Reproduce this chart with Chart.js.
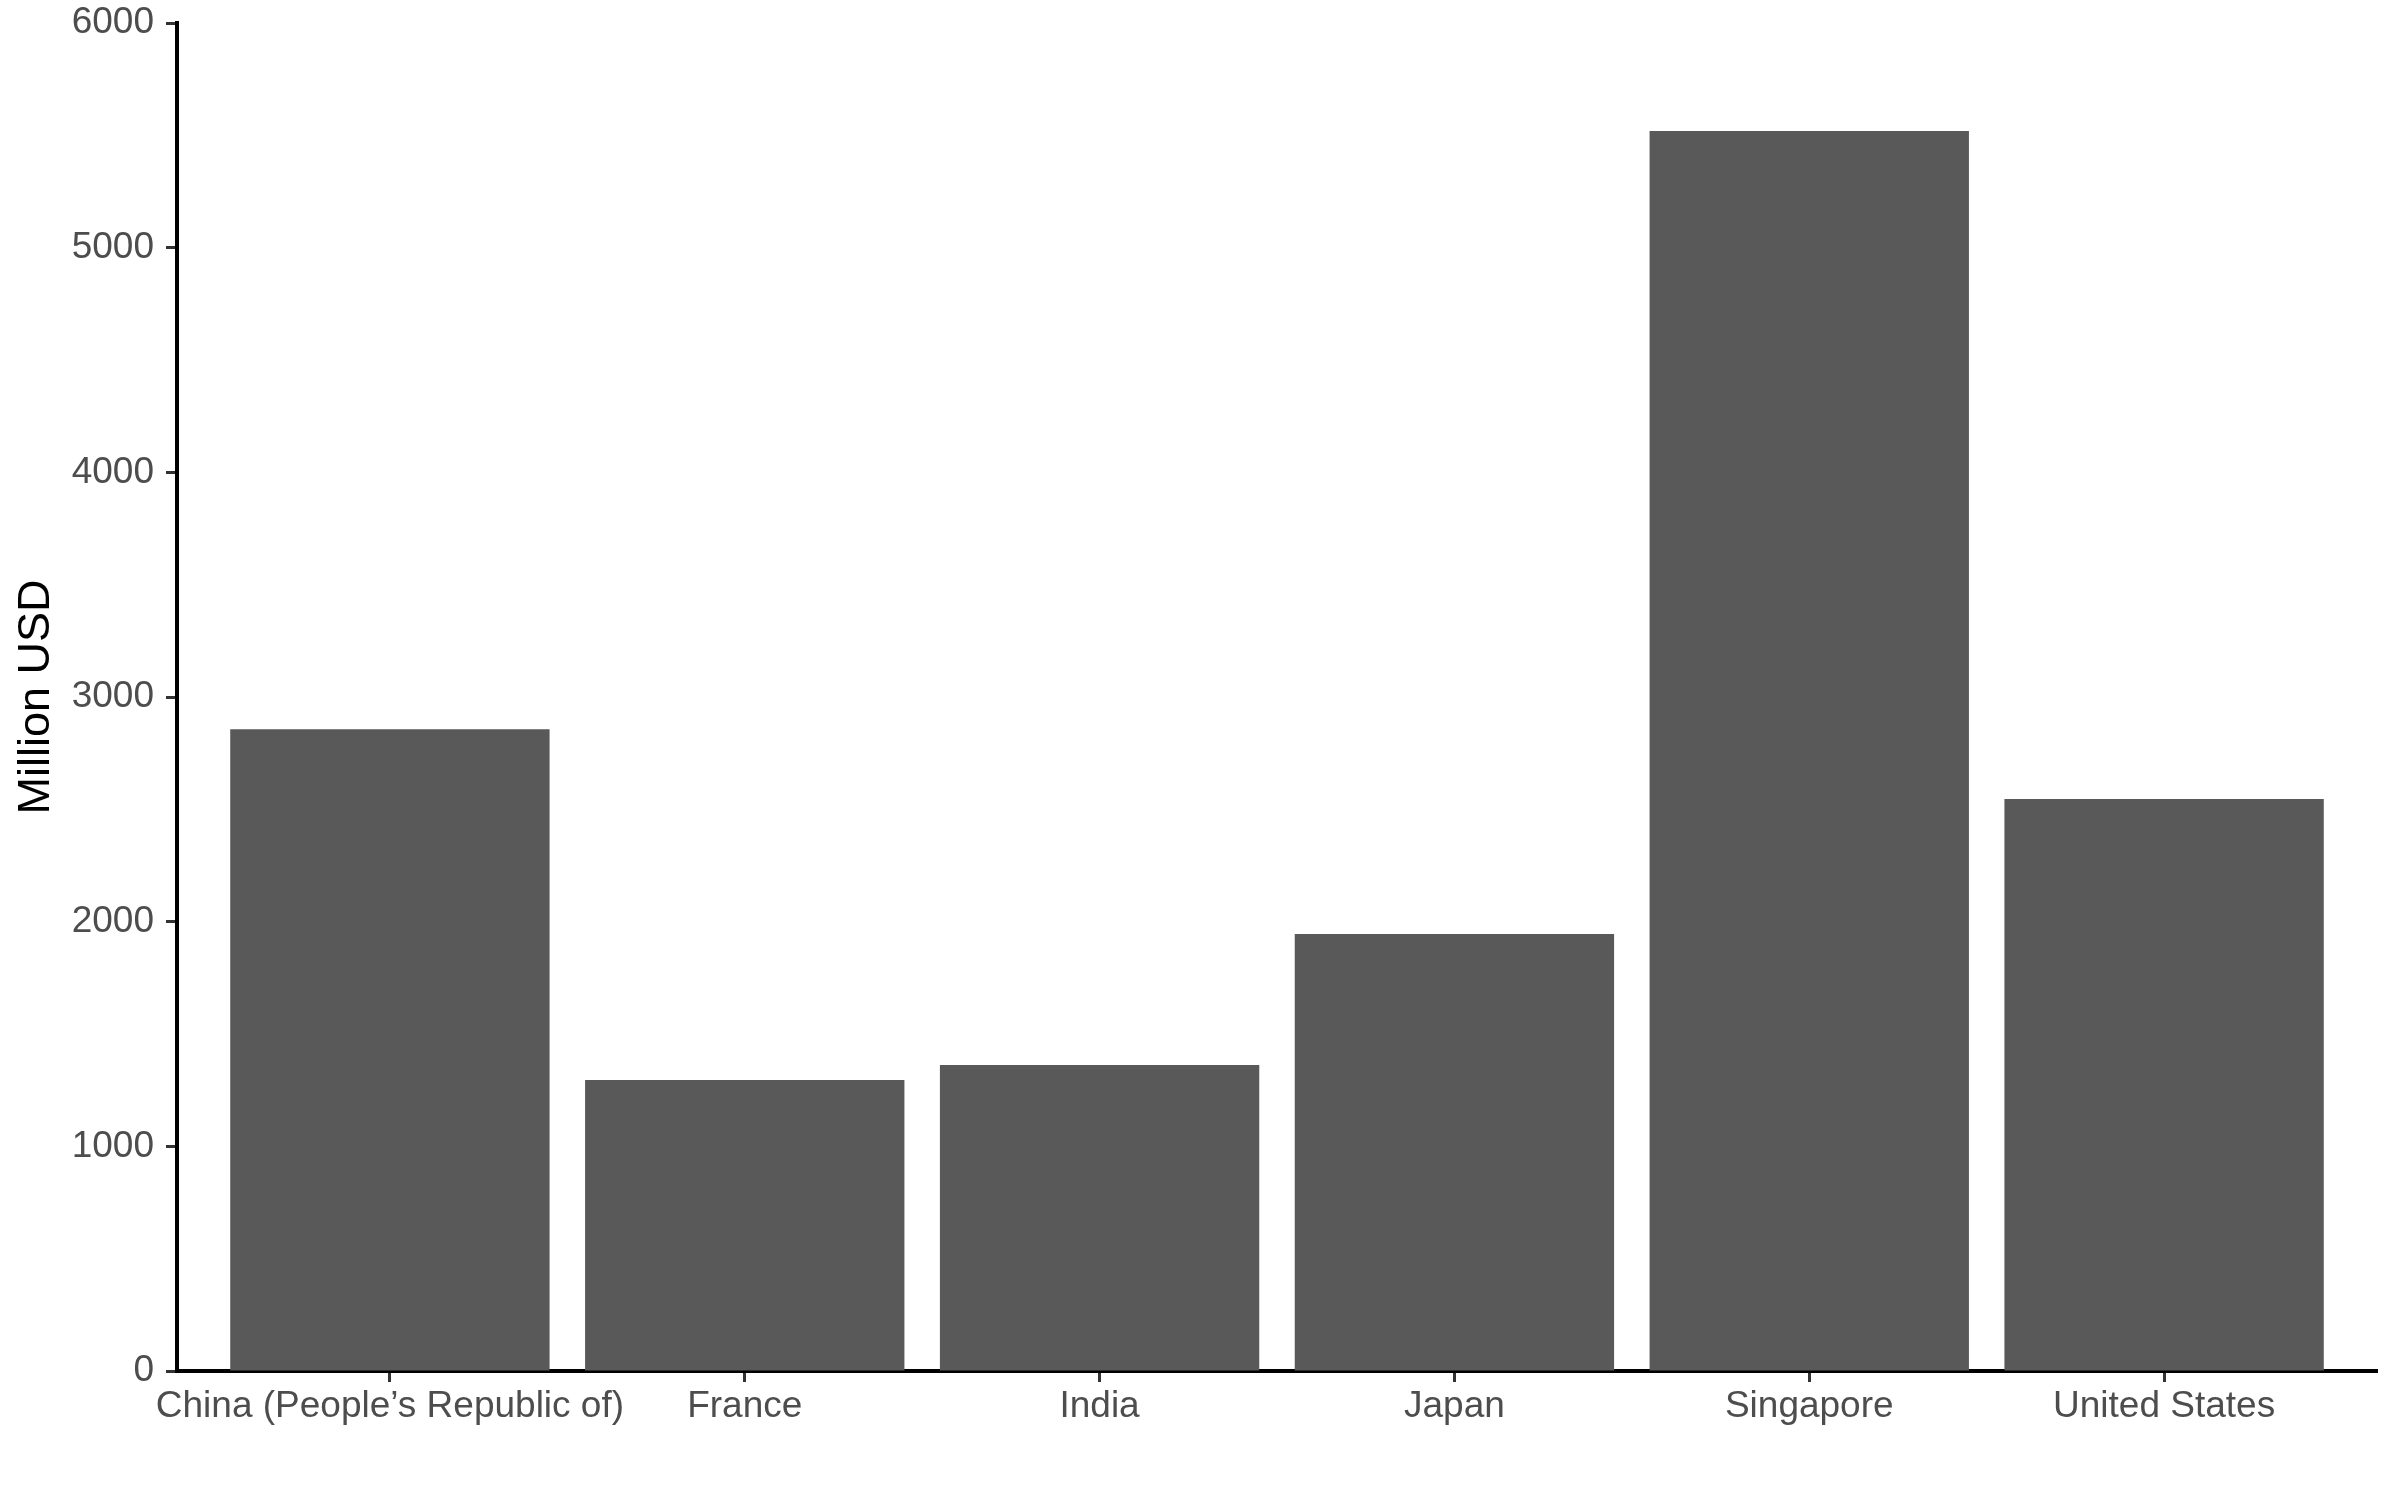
<!DOCTYPE html>
<html>
<head>
<meta charset="utf-8">
<script src="https://cdn.jsdelivr.net/npm/chart.js@4.4.0/dist/chart.umd.min.js"></script>
<style>
  html, body { margin: 0; padding: 0; background: #fff; }
  #wrap { width: 2400px; height: 1500px; }
</style>
</head>
<body>
<div id="wrap"><canvas id="tradeChart" width="2400" height="1500"></canvas></div>
<script>
var countries = ['China (People\u2019s Republic of)', 'France', 'India', 'Japan', 'Singapore', 'United States'];
var valuesUSD = [2857, 1295, 1362, 1945, 5519, 2546];
var yTicks = [0, 1000, 2000, 3000, 4000, 5000, 6000];

document.addEventListener('DOMContentLoaded', function () {
    var ctx = document.getElementById('tradeChart').getContext('2d');
    var fontFamily = "'Liberation Sans', Arial, sans-serif";

    var points = valuesUSD.map(function (v, i) { return { x: i, y: v }; });

    new Chart(ctx, {
        type: 'bar',
        data: {
            datasets: [{
                label: 'Million USD',
                data: points,
                backgroundColor: '#595959',
                borderWidth: 0,
                barPercentage: 0.9,
                categoryPercentage: 1.0
            }]
        },
        options: {
            responsive: false,
            animation: false,
            layout: { padding: { top: 23, right: 23, bottom: 0, left: 0 } },
            plugins: {
                legend: { display: false },
                tooltip: { enabled: false }
            },
            scales: {
                x: {
                    type: 'linear',
                    min: -0.6,
                    max: 5.6,
                    offset: false,
                    afterBuildTicks: function (axis) {
                        axis.ticks = countries.map(function (c, i) { return { value: i }; });
                    },
                    afterFit: function (axis) {
                        axis.height = 129;
                        axis.paddingLeft = 0;
                        axis.paddingRight = 0;
                    },
                    ticks: {
                        autoSkip: false,
                        maxRotation: 0,
                        padding: 3,
                        color: '#4d4d4d',
                        font: { family: fontFamily, size: 37 },
                        callback: function (value) { return countries[value] || ''; }
                    },
                    grid: {
                        offset: false,
                        drawOnChartArea: false,
                        drawTicks: true,
                        tickLength: 11,
                        tickWidth: 3,
                        tickColor: '#333333'
                    },
                    border: { display: true, color: '#000000', width: 4 }
                },
                y: {
                    min: 0,
                    max: 6000,
                    afterBuildTicks: function (axis) {
                        axis.ticks = yTicks.map(function (t) { return { value: t }; });
                    },
                    afterFit: function (axis) {
                        axis.width = 177;
                        axis.paddingTop = 0;
                        axis.paddingBottom = 0;
                    },
                    ticks: {
                        padding: 12,
                        color: '#4d4d4d',
                        font: { family: fontFamily, size: 37 },
                        callback: function (value) { return String(value); }
                    },
                    grid: {
                        drawOnChartArea: false,
                        drawTicks: true,
                        tickLength: 11,
                        tickWidth: 3,
                        tickColor: '#333333'
                    },
                    border: { display: true, color: '#000000', width: 4 },
                    title: {
                        display: true,
                        text: 'Million USD',
                        color: '#000000',
                        font: { family: fontFamily, size: 45 },
                        padding: { top: 10, bottom: 0 }
                    }
                }
            }
        }
    });
});
</script>
</body>
</html>
